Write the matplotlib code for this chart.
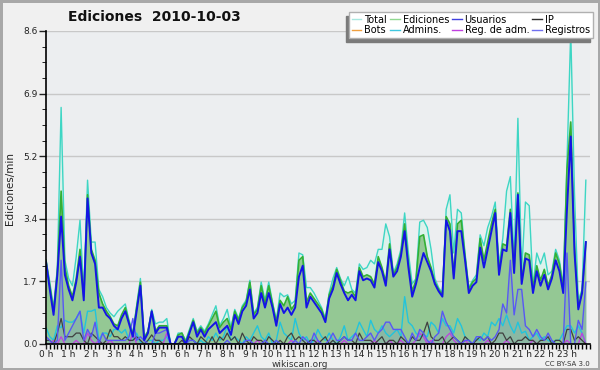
import matplotlib
matplotlib.use('Agg')
import matplotlib.pyplot as plt
from matplotlib.patches import Rectangle
from matplotlib.ticker import MultipleLocator, FixedLocator

# 10-minute samples, edits per minute
total = [2.3, 1.7, 1.0, 2.1, 6.5, 2.3, 1.8, 1.6, 2.4, 3.4, 1.4, 4.5,
         2.8, 2.8, 1.5, 1.3, 1.0, 0.85, 0.75, 0.9, 1.0, 1.1, 0.65, 0.3,
         1.05, 1.8, 0.2, 0.35, 0.95, 0.55, 0.6, 0.6, 0.7, 0.0, 0.0, 0.3,
         0.3, 0.1, 0.4, 0.7, 0.35, 0.5, 0.35, 0.55, 0.8, 1.05, 0.5, 0.7,
         0.95, 0.45, 0.95, 0.7, 1.05, 1.2, 1.75, 0.85, 1.0, 1.7, 1.2, 1.7,
         1.15, 0.65, 1.4, 1.3, 1.35, 1.1, 1.2, 2.5, 2.45, 1.55, 1.55, 1.4,
         1.2, 1.0, 0.7, 1.4, 1.8, 2.1, 1.8, 1.6, 1.85, 1.5, 1.4, 2.2,
         2.05, 2.1, 2.3, 2.2, 2.6, 2.6, 3.3, 2.95, 1.95, 2.2, 2.6, 3.6,
         2.5, 1.65, 1.8, 3.35, 3.4, 3.2, 2.6, 1.8, 1.55, 1.4, 3.7, 4.1,
         2.5, 3.7, 3.6, 2.5, 1.55, 1.75, 1.9, 3.0, 2.7, 3.2, 3.5, 3.9,
         2.2, 2.9, 4.2, 4.6, 2.3, 6.2, 2.0, 3.9, 3.8, 1.6, 2.5, 2.2,
         2.5, 1.9, 2.0, 2.6, 2.3, 1.6, 5.0, 8.6, 4.1, 1.2, 1.5, 4.5]
ediciones = [2.3, 1.6, 0.9, 2.0, 4.2, 2.1, 1.6, 1.3, 1.8, 2.6, 1.3, 4.1,
             2.6, 2.3, 1.4, 1.1, 0.9, 0.75, 0.55, 0.5, 0.8, 1.0, 0.6, 0.25,
             1.0, 1.7, 0.15, 0.35, 0.9, 0.35, 0.5, 0.5, 0.5, 0.0, 0.0, 0.25,
             0.3, 0.05, 0.35, 0.65, 0.3, 0.45, 0.3, 0.5, 0.7, 0.9, 0.45, 0.6,
             0.7, 0.4, 0.9, 0.65, 1.0, 1.15, 1.7, 0.8, 0.95, 1.6, 1.1, 1.6,
             1.1, 0.6, 1.2, 1.05, 1.3, 0.95, 1.1, 2.3, 2.4, 1.15, 1.4, 1.25,
             1.1, 0.95, 0.65, 1.35, 1.6, 2.05, 1.75, 1.45, 1.4, 1.45, 1.3, 2.1,
             1.85, 1.9, 1.85, 1.65, 2.4, 2.1, 1.7, 2.75, 1.9, 2.1, 2.5, 3.3,
             2.2, 1.45, 1.75, 2.95, 3.0, 2.4, 2.1, 1.7, 1.5, 1.35, 3.5, 3.3,
             1.9, 3.3, 3.4, 2.4, 1.5, 1.7, 1.8, 2.9, 2.3, 2.8, 3.3, 3.7,
             2.0, 2.75, 2.7, 3.7, 2.05, 4.15, 1.75, 2.5, 2.45, 1.55, 2.15, 1.75,
             2.05, 1.6, 1.9, 2.5, 2.2, 1.5, 4.8, 6.1, 2.7, 1.0, 1.45, 2.8]
usuarios = [2.25, 1.5, 0.8, 1.9, 3.5, 1.9, 1.5, 1.2, 1.7, 2.4, 1.2, 4.0,
            2.5, 2.2, 1.0, 1.0, 0.8, 0.7, 0.5, 0.4, 0.7, 0.9, 0.55, 0.2,
            0.9, 1.6, 0.1, 0.3, 0.9, 0.3, 0.45, 0.45, 0.45, 0.0, 0.0, 0.2,
            0.2, 0.0, 0.3, 0.6, 0.2, 0.4, 0.2, 0.4, 0.5, 0.6, 0.3, 0.4,
            0.5, 0.25, 0.8, 0.55, 0.9, 1.05, 1.5, 0.7, 0.85, 1.4, 1.0, 1.4,
            1.0, 0.5, 1.1, 0.85, 1.0, 0.8, 1.0, 1.85, 2.15, 1.0, 1.3, 1.15,
            1.0, 0.85, 0.6, 1.25, 1.5, 1.95, 1.65, 1.4, 1.2, 1.35, 1.2, 2.0,
            1.75, 1.8, 1.75, 1.55, 2.25, 2.0, 1.6, 2.6, 1.85, 2.0, 2.4, 3.1,
            2.1, 1.3, 1.65, 2.1, 2.5, 2.25, 2.0, 1.65, 1.45, 1.3, 3.4, 3.1,
            1.8, 3.1, 3.1, 2.3, 1.4, 1.6, 1.7, 2.65, 2.1, 2.6, 3.1, 3.6,
            1.9, 2.6, 2.55, 3.6, 1.95, 4.1, 1.65, 2.35, 2.3, 1.4, 2.0, 1.6,
            1.9, 1.5, 1.8, 2.3, 2.0, 1.4, 3.7, 5.7, 2.5, 0.95, 1.4, 2.8]
ip = [0.1, 0.1, 0.0, 0.3, 0.7, 0.2, 0.2, 0.2, 0.3, 0.3, 0.1, 0.0,
      0.3, 0.2, 0.1, 0.0, 0.1, 0.4, 0.2, 0.2, 0.1, 0.2, 0.1, 0.1,
      0.2, 0.1, 0.0, 0.1, 0.25, 0.1, 0.1, 0.0, 0.0, 0.0, 0.0, 0.0,
      0.1, 0.0, 0.2, 0.1, 0.0, 0.2, 0.1, 0.0, 0.2, 0.0, 0.2, 0.1,
      0.3, 0.1, 0.2, 0.0, 0.3, 0.1, 0.0, 0.2, 0.1, 0.1, 0.0, 0.2,
      0.1, 0.0, 0.1, 0.0, 0.2, 0.3, 0.1, 0.2, 0.1, 0.0, 0.1, 0.1,
      0.0, 0.1, 0.2, 0.0, 0.1, 0.0, 0.1, 0.2, 0.1, 0.1, 0.0, 0.3,
      0.1, 0.1, 0.1, 0.0, 0.1, 0.2, 0.0, 0.1, 0.1, 0.0, 0.2, 0.1,
      0.0, 0.2, 0.1, 0.1, 0.3, 0.6, 0.2, 0.1, 0.1, 0.2, 0.0, 0.1,
      0.2, 0.1, 0.0, 0.2, 0.1, 0.0, 0.1, 0.2, 0.1, 0.2, 0.0, 0.1,
      0.3, 0.3, 0.1, 0.2, 0.0, 0.1, 0.1, 0.2, 0.1, 0.1, 0.0, 0.1,
      0.1, 0.2, 0.0, 0.1, 0.1, 0.0, 0.4, 0.4, 0.1, 0.2, 0.1, 0.0]
bots = [0.0] * 144
admins = [0.45, 0.2, 0.1, 0.5, 0.45, 0.65, 0.6, 0.6, 0.7, 0.9, 0.3, 0.9,
          0.9, 0.95, 0.1, 0.3, 0.3, 0.2, 0.4, 0.4, 0.3, 0.4, 0.1, 0.1,
          0.3, 0.05, 0.0, 0.1, 0.1, 0.0, 0.1, 0.1, 0.2, 0.0, 0.0, 0.0,
          0.0, 0.0, 0.1, 0.1, 0.0, 0.1, 0.0, 0.2, 0.1, 0.3, 0.1, 0.2,
          0.5, 0.1, 0.2, 0.1, 0.0, 0.2, 0.1, 0.3, 0.5, 0.2, 0.1, 0.3,
          0.0, 0.1, 0.6, 0.3, 0.2, 0.1, 0.7, 0.3, 0.1, 0.2, 0.0, 0.1,
          0.4, 0.2, 0.1, 0.3, 0.1, 0.0, 0.2, 0.5, 0.1, 0.2, 0.3, 0.6,
          0.4, 0.2, 0.65, 0.4, 0.3, 0.5, 0.3, 0.2, 0.3, 0.4, 0.2, 1.3,
          0.6, 0.5, 0.3, 0.2, 0.25, 0.2, 0.6, 0.5, 0.3, 0.7, 0.5, 0.5,
          0.3, 0.7, 0.5, 0.2, 0.1, 0.0, 0.15, 0.1, 0.3, 0.2, 0.6, 0.5,
          0.7, 0.5, 0.8, 0.5, 0.3, 0.6, 0.3, 0.35, 0.1, 0.2, 0.3, 0.1,
          0.2, 0.1, 0.05, 0.1, 0.1, 0.3, 0.5, 0.5, 0.3, 0.5, 0.3, 0.0]
reg_adm = [0.0, 0.0, 0.1, 0.0, 0.2, 0.0, 0.0, 0.0, 0.1, 0.0, 0.0, 0.3,
           0.1, 0.0, 0.1, 0.0, 0.0, 0.1, 0.0, 0.0, 0.0, 0.0, 0.0, 0.3,
           0.0, 0.0, 0.0, 0.0, 0.0, 0.0, 0.0, 0.0, 0.3, 0.0, 0.0, 0.0,
           0.0, 0.0, 0.0, 0.0, 0.0, 0.0, 0.0, 0.0, 0.0, 0.0, 0.0, 0.0,
           0.0, 0.0, 0.0, 0.0, 0.0, 0.0, 0.0, 0.0, 0.1, 0.0, 0.0, 0.0,
           0.0, 0.0, 0.0, 0.0, 0.0, 0.1, 0.0, 0.0, 0.0, 0.0, 0.0, 0.0,
           0.1, 0.0, 0.0, 0.0, 0.0, 0.0, 0.0, 0.1, 0.0, 0.0, 0.0, 0.0,
           0.0, 0.0, 0.0, 0.1, 0.0, 0.0, 0.0, 0.1, 0.0, 0.0, 0.1, 0.0,
           0.0, 0.0, 0.1, 0.3, 0.2, 0.0, 0.1, 0.0, 0.0, 0.0, 0.2, 0.3,
           0.1, 0.0, 0.0, 0.1, 0.0, 0.0, 0.0, 0.0, 0.0, 0.1, 0.0, 0.0,
           0.0, 0.0, 0.1, 0.0, 0.0, 0.0, 0.0, 0.0, 0.0, 0.1, 0.0, 0.0,
           0.0, 0.0, 0.0, 0.0, 0.0, 0.0, 0.1, 0.0, 0.0, 0.0, 0.3, 0.0]
registros = [0.2, 0.1, 0.0, 0.1, 2.3, 0.1, 0.3, 0.5, 0.7, 0.9, 0.1, 0.4,
             0.2, 0.6, 0.0, 0.3, 0.1, 0.1, 0.1, 0.1, 0.1, 0.1, 0.2, 0.7,
             0.1, 0.2, 0.1, 0.0, 0.0, 0.3, 0.3, 0.35, 0.4, 0.0, 0.0, 0.0,
             0.0, 0.0, 0.1, 0.1, 0.0, 0.0, 0.0, 0.0, 0.0, 0.0, 0.0, 0.0,
             0.1, 0.0, 0.0, 0.0, 0.0, 0.1, 0.1, 0.0, 0.0, 0.0, 0.1, 0.0,
             0.0, 0.1, 0.0, 0.0, 0.0, 0.0, 0.1, 0.0, 0.2, 0.1, 0.0, 0.3,
             0.1, 0.0, 0.0, 0.1, 0.3, 0.1, 0.1, 0.2, 0.1, 0.1, 0.3, 0.1,
             0.1, 0.2, 0.3, 0.1, 0.3, 0.4, 0.6, 0.6, 0.4, 0.4, 0.4, 0.2,
             0.0, 0.3, 0.1, 0.4, 0.3, 0.1, 0.0, 0.2, 0.3, 0.9, 0.6, 0.4,
             0.2, 0.1, 0.0, 0.1, 0.1, 0.0, 0.2, 0.2, 0.1, 0.2, 0.1, 0.2,
             0.4, 1.1, 0.85, 2.3, 0.8, 1.5, 1.5, 0.5, 0.4, 0.2, 0.4, 0.2,
             0.1, 0.3, 0.1, 0.0, 0.0, 0.0, 2.5, 0.0, 0.0, 0.65, 0.4, 1.7]
hour_labels = [f'{h} h' for h in range(24)]

x = [i / 6 for i in range(len(total))]

fig = plt.figure(figsize=(6, 3.7), dpi=100)
fig.patch.set_facecolor('#f0f0f0')
fig.patch.set_edgecolor('#a8a8a8')
fig.patch.set_linewidth(2.5)
ax = fig.add_axes([0.0767, 0.0703, 0.906, 0.846])
ax.set_facecolor('#eceef0')

# filled areas first, then lines
ax.fill_between(x, total, color='#dcf2ec', lw=0)
ax.fill_between(x, ediciones, color='#94c894', lw=0)
ax.fill_between(x, registros, color='#6a7ae0', alpha=0.2, lw=0)
ax.plot(x, total, color='#3ed6c4', lw=1.0)
ax.plot(x, ediciones, color='#34b034', lw=1.2)
ax.plot(x, bots, color='#f0a040', lw=0.9)
ax.plot(x, admins, color='#22c4dc', lw=1.0)
ax.plot(x, reg_adm, color='#c040e0', lw=0.9)
ax.plot(x, ip, color='#404040', lw=0.9)
ax.plot(x, registros, color='#5858f4', lw=1.0)
ax.plot(x, usuarios, color='#1414e6', lw=1.4)

ax.set_xlim(0, 24)
ax.set_ylim(0, 8.6)
yt = [0, 1.72, 3.44, 5.16, 6.88, 8.6]
ax.yaxis.set_major_locator(FixedLocator(yt))
ax.set_yticklabels([f'{v:.1f}' for v in yt])
ax.yaxis.set_minor_locator(MultipleLocator(0.43))
ax.xaxis.set_major_locator(FixedLocator(range(24)))
ax.set_xticklabels(hour_labels)
ax.xaxis.set_minor_locator(MultipleLocator(1 / 6))
ax.tick_params(axis='both', labelsize=6.5, colors='#222222', width=1)
ax.tick_params(axis='x', which='major', length=3.5, pad=0.5)
ax.tick_params(axis='x', which='minor', length=3.5, width=1)
ax.tick_params(axis='y', which='major', length=5, pad=1)
ax.tick_params(axis='y', which='minor', length=3)
ax.grid(axis='y', color='#c8c8c8', lw=1)
ax.set_axisbelow(True)
for s in ['top', 'right']:
    ax.spines[s].set_visible(False)
ax.spines['left'].set_linewidth(1.2)
ax.spines['bottom'].set_linewidth(1.2)

fig.text(0.258, 0.955, 'Ediciones  2010-10-03', ha='center', va='center',
         fontsize=10, fontweight='bold', color='#111111')
fig.text(0.017, 0.49, 'Ediciones/min', rotation=90, ha='center', va='center',
         fontsize=7.5, color='#222222')
fig.text(0.5, 0.016, 'wikiscan.org', ha='center', va='center', fontsize=6.5, color='#333333')
fig.text(0.983, 0.016, 'CC BY-SA 3.0', ha='right', va='center', fontsize=5, color='#333333')

# legend, filled row by row
names = ['Total', 'Ediciones', 'Usuarios', 'IP', 'Bots', 'Admins.', 'Reg. de adm.', 'Registros']
colors = ['#a8e8e0', '#90d890', '#4040e0', '#303030', '#f0a040', '#40c8e0', '#c040e0', '#7070f0']
handles = [plt.Line2D([], [], color=c, lw=1) for c in colors]
order = [0, 4, 1, 5, 2, 6, 3, 7]
leg = fig.legend([handles[i] for i in order], [names[i] for i in order], ncol=4,
                 loc='upper right', bbox_to_anchor=(0.988, 0.968), fontsize=7,
                 handlelength=1.0, handletextpad=0.3, columnspacing=0.3,
                 labelspacing=0.05, borderpad=0.3, borderaxespad=0,
                 fancybox=False, framealpha=1, edgecolor='#b0b0b0')
leg.get_frame().set_linewidth(1)
fig.canvas.draw()
bb = leg.get_window_extent().transformed(fig.transFigure.inverted())
fig.patches.append(Rectangle((bb.x0 - 0.005, bb.y0 - 0.01), bb.width, bb.height,
                             transform=fig.transFigure, color='#7a7a7a', zorder=0.5))
leg.set_zorder(5)

fig.savefig('out.png', dpi=100, facecolor=fig.get_facecolor(), edgecolor=fig.patch.get_edgecolor())
